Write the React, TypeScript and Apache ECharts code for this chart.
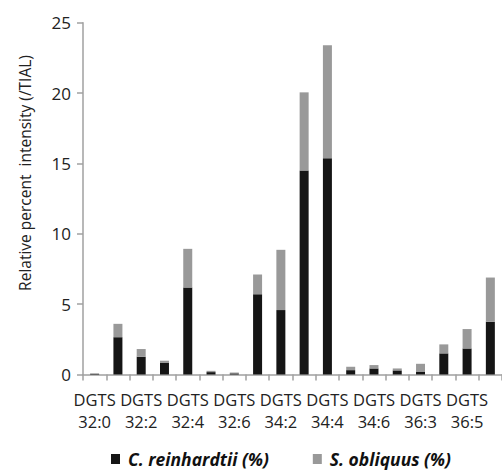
import React, { useEffect, useRef } from "react";
import * as echarts from "echarts";

const categories = [
  "32:0", "32:1", "32:2", "32:3", "32:4", "32:5", "32:6", "34:1", "34:2",
  "34:3", "34:4", "34:5", "34:6", "36:2", "36:3", "36:4", "36:5", "36:6",
];
const cReinhardtii = [
  0.05, 2.65, 1.26, 0.82, 6.18, 0.17, 0.08, 5.7, 4.58,
  14.5, 15.36, 0.31, 0.43, 0.29, 0.21, 1.5, 1.85, 3.75,
];
const sObliquus = [
  0.03, 0.95, 0.55, 0.16, 2.75, 0.09, 0.06, 1.4, 4.28,
  5.55, 8.03, 0.24, 0.24, 0.14, 0.55, 0.64, 1.38, 3.14,
];
const yTicks = { min: 0, max: 25, interval: 5 };
const seriesNames = ["C. reinhardtii (%)", "S. obliquus (%)"];
const yAxisTitle = "Relative percent  intensity (/TIAL)";

const FONT = "'Open Sans', 'DejaVu Sans', sans-serif";

export default function App() {
  const ref = useRef<HTMLDivElement>(null);
  useEffect(() => {
    document.body.style.margin = "0";
    if (!ref.current) return;
    const chart = echarts.init(ref.current, undefined, { renderer: "svg" });
    chart.setOption({
      animation: false,
      backgroundColor: "#ffffff",
      grid: { left: 83, right: -1, top: 22.7, bottom: 473 - 374.5 },
      xAxis: {
        type: "category",
        data: categories,
        axisLine: { show: true, lineStyle: { color: "#a0a0a0", width: 1.5 } },
        axisTick: { show: true, alignWithLabel: false, length: 6, interval: 0, lineStyle: { color: "#a0a0a0", width: 1.5 } },
        axisLabel: {
          interval: 1,
          formatter: (v: string) => `DGTS\n${v}`,
          fontFamily: FONT,
          fontSize: 16.5,
          lineHeight: 22,
          color: "#222",
          margin: 14,
        },
      },
      yAxis: {
        type: "value",
        min: yTicks.min,
        max: yTicks.max,
        interval: yTicks.interval,
        splitLine: { show: false },
        axisLine: { show: true, lineStyle: { color: "#a0a0a0", width: 1.5 } },
        axisTick: { show: true, length: 6, lineStyle: { color: "#a0a0a0", width: 1.5 } },
        axisLabel: { fontFamily: FONT, fontSize: 17, color: "#222", margin: 12 },
      },
      legend: {
        data: seriesNames,
        left: 111,
        top: 450,
        padding: 0,
        icon: "rect",
        itemWidth: 9,
        itemHeight: 10,
        itemGap: 44,
        textStyle: {
          fontFamily: FONT,
          fontSize: 17.5,
          lineHeight: 18,
          fontWeight: "bold",
          fontStyle: "italic",
          color: "#111",
          padding: [0, 0, 0, 3],
        },
      },
      graphic: [
        {
          type: "text",
          x: 25,
          y: 173,
          rotation: Math.PI / 2,
          style: {
            text: yAxisTitle,
            font: `15.5px ${FONT}`,
            fill: "#222",
            textAlign: "center",
            textVerticalAlign: "middle",
          },
        },
      ],
      series: [
        {
          name: seriesNames[0],
          type: "bar",
          stack: "total",
          data: cReinhardtii,
          barWidth: 9,
          itemStyle: { color: "#151515" },
        },
        {
          name: seriesNames[1],
          type: "bar",
          stack: "total",
          data: sObliquus,
          barWidth: 9,
          itemStyle: { color: "#999999" },
        },
      ],
    });
    return () => chart.dispose();
  }, []);
  return <div ref={ref} style={{ width: 502, height: 473 }} />;
}
